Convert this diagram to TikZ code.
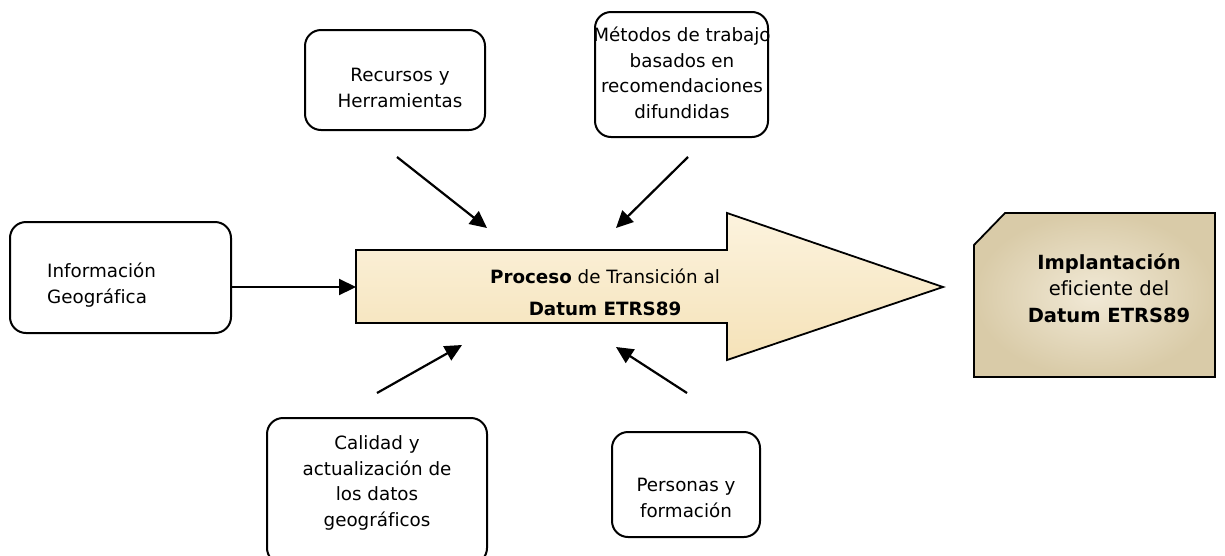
\documentclass[tikz,border=0pt]{standalone}
\usepackage{fontspec}
\setmainfont[Ligatures={NoCommon}]{DejaVu Sans}
\usetikzlibrary{arrows.meta,positioning}
\definecolor{beigeL}{HTML}{FCF3DE}
\definecolor{beigeD}{HTML}{F5E2B8}
\definecolor{boxL}{HTML}{F1E9D6}
\definecolor{boxD}{HTML}{D9CBA8}
\tikzset{
  rbox/.style={draw=black, line width=2pt, rounded corners=16pt},
  lbl/.style={align=center, font=\fontsize{18.3}{25.5}\selectfont, inner sep=0pt},
  conn/.style={line width=2.2pt, -{Triangle[length=17pt,width=16pt]}},
}
\begin{document}
\begin{tikzpicture}[x=1pt,y=-1pt]
\useasboundingbox (0,0) rectangle (1225,555);
% boxes
\draw[rbox] (10,222) rectangle (231,333);
\node[lbl, align=left, anchor=west] (info) at (47,285) {Información\\Geográfica};
\coordinate (infoE) at (231,287);

\draw[rbox] (305,30) rectangle (485,130);
\node[lbl] (rec) at (400,88) {Recursos y\\Herramientas};

\draw[rbox] (595,12) rectangle (768,137);
\node[lbl] (met) at (682,73) {Métodos de trabajo\\basados en\\recomendaciones\\difundidas};

\draw[rbox] (267,418) rectangle (487,564);
\node[lbl] (cal) at (377,483) {Calidad y\\actualización de\\los datos\\geográficos};

\draw[rbox] (612,432) rectangle (760,537);
\node[lbl] (per) at (686,498) {Personas y\\formación};

% big arrow
\path[draw=black, line width=1.8pt, top color=beigeL, bottom color=beigeD]
  (356,250) -- (727,250) -- (727,213) -- (943,287) -- (727,360) -- (727,323) -- (356,323) -- cycle;
\coordinate (arrW) at (356,287);
\node[lbl, font=\fontsize{18.3}{32}\selectfont] (proc) at (605,292) {\textbf{Proceso} de Transición al\\\textbf{Datum ETRS89}};
\coordinate (pTL) at (487,228);
\coordinate (pTR) at (616,228);
\coordinate (pBL) at (462,345);
\coordinate (pBR) at (616,347);

% implantacion box
\shade[inner color=boxL, outer color=boxD]
  (1005,213) -- (1215,213) -- (1215,377) -- (974,377) -- (974,245) -- cycle;
\draw[line width=1.8pt] (1005,213) -- (1215,213) -- (1215,377) -- (974,377) -- (974,245) -- cycle;
\node[lbl, font=\fontsize{19.5}{26.5}\selectfont] (imp) at (1109,288) {\textbf{Implantación}\\eficiente del\\\textbf{Datum ETRS89}};

% connectors
\draw[conn] (infoE) -- (arrW);
\coordinate (recS) at (397,157);
\coordinate (metS) at (688,157);
\coordinate (calS) at (377,393);
\coordinate (perS) at (687,393);
\draw[conn] (recS) -- (pTL);
\draw[conn] (metS) -- (pTR);
\draw[conn] (calS) -- (pBL);
\draw[conn] (perS) -- (pBR);
\end{tikzpicture}
\end{document}
